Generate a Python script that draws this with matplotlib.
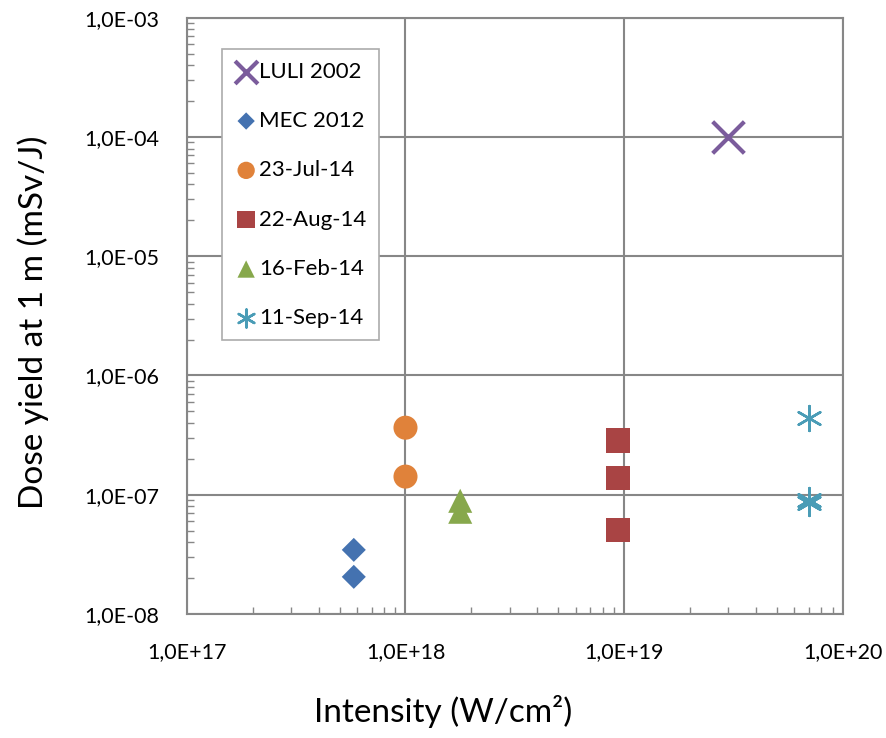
import numpy as np
import matplotlib
matplotlib.use('Agg')
import matplotlib.pyplot as plt
from matplotlib.ticker import FixedLocator, LogLocator, NullFormatter

plt.rcParams['font.family'] = ['Lato', 'DejaVu Sans']

# intensity (W/cm2) and dose yield at 1 m (mSv/J) per campaign
luli_x = [3.0e19]
luli_y = [1.0e-4]
mec_x = [5.8e17, 5.8e17]
mec_y = [3.45e-8, 2.05e-8]
jul_x = [1.0e18, 1.0e18]
jul_y = [3.65e-7, 1.42e-7]
aug_x = [9.4e18, 9.4e18, 9.4e18]
aug_y = [2.85e-7, 1.38e-7, 5.1e-8]
feb_x = [1.78e18, 1.78e18]
feb_y = [8.9e-8, 7.2e-8]
sep_x = [7.0e19, 7.0e19, 7.0e19]
sep_y = [4.4e-7, 9.0e-8, 8.6e-8]

grid_c = '#878787'

fig = plt.figure(figsize=(8.86, 7.38), dpi=100)
ax = fig.add_axes([0.211, 0.168, 0.740, 0.808])
ax.set_xscale('log')
ax.set_yscale('log')
ax.set_xlim(1e17, 1e20)
ax.set_ylim(1e-8, 1e-3)

ax.scatter(luli_x, luli_y, marker='x', s=520, color='#7B5C9C', linewidths=3, label='LULI 2002', zorder=3)
ax.scatter(mec_x, mec_y, marker='D', s=150, color='#4472B0', edgecolors='none', label='MEC 2012', zorder=3)
ax.scatter(jul_x, jul_y, marker='o', s=300, color='#E0823A', edgecolors='none', label='23-Jul-14', zorder=3)
ax.scatter(aug_x, aug_y, marker='s', s=300, color='#A94444', edgecolors='none', label='22-Aug-14', zorder=3)
ax.scatter(feb_x, feb_y, marker='^', s=300, color='#87A84C', edgecolors='none', label='16-Feb-14', zorder=3)
ax.scatter(sep_x, sep_y, marker=(6, 2, 0), s=320, color='#4A9CB6', linewidths=1.8, label='11-Sep-14', zorder=3)

ax.xaxis.set_major_locator(FixedLocator([1e17, 1e18, 1e19, 1e20]))
ax.yaxis.set_major_locator(FixedLocator([1e-8, 1e-7, 1e-6, 1e-5, 1e-4, 1e-3]))
ax.xaxis.set_minor_locator(LogLocator(base=10, subs=np.arange(2, 10)))
ax.yaxis.set_minor_locator(LogLocator(base=10, subs=np.arange(2, 10)))
ax.xaxis.set_minor_formatter(NullFormatter())
ax.yaxis.set_minor_formatter(NullFormatter())
ax.set_xticklabels(['1,0E+17', '1,0E+18', '1,0E+19', '1,0E+20'])
ax.set_yticklabels(['1,0E-08', '1,0E-07', '1,0E-06', '1,0E-05', '1,0E-04', '1,0E-03'])

ax.grid(True, which='major', color=grid_c, linewidth=1.5, zorder=0)
ax.set_axisbelow(True)
for sp in ax.spines.values():
    sp.set_color(grid_c)
    sp.set_linewidth(1.5)
ax.tick_params(which='both', direction='in', color=grid_c, labelsize=15.5, colors='black')
ax.tick_params(which='major', length=7, width=1.2)
ax.tick_params(which='minor', length=5, width=1)
ax.tick_params(axis='x', which='both', top=False)
ax.tick_params(axis='y', which='both', right=False)
ax.tick_params(axis='x', which='major', pad=20)
ax.tick_params(axis='y', which='major', pad=20)

ax.set_xlabel('Intensity (W/cm²)', fontsize=24)
ax.xaxis.set_label_coords(0.39, -0.135)
ax.set_ylabel('Dose yield at 1 m (mSv/J)', fontsize=24)
ax.yaxis.set_label_coords(-0.21, 0.49)

leg = ax.legend(loc='upper left', bbox_to_anchor=(0.053, 0.947), fontsize=16,
                frameon=True, fancybox=False, framealpha=1, edgecolor='#ABABAB',
                handletextpad=0.05, handlelength=1.1, labelspacing=1.32,
                borderpad=0.55, borderaxespad=0, markerscale=0.72)
leg.get_frame().set_linewidth(1.2)

fig.savefig('out.png', dpi=100)
